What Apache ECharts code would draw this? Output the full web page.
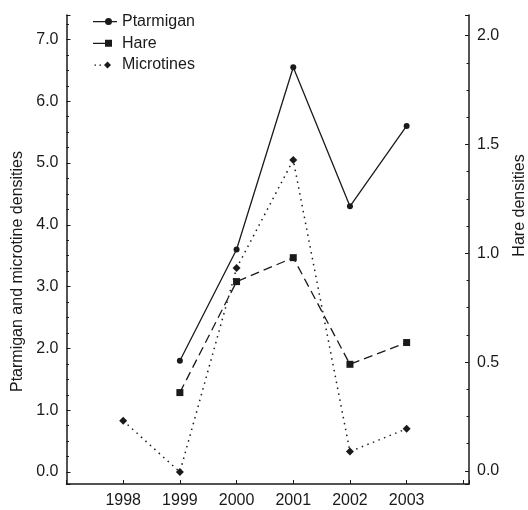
<!DOCTYPE html>
<html>
<head>
<meta charset="utf-8">
<script src="https://cdn.jsdelivr.net/npm/echarts@6/dist/echarts.min.js"></script>
<style>html,body{margin:0;padding:0;background:#fff}#c{width:528px;height:510px}</style>
</head>
<body>
<div id="c"></div>
<script>
const years = [1998, 1999, 2000, 2001, 2002, 2003];
const ptarmigan = [null, 1.8, 3.6, 6.55, 4.3, 5.6];
const hare = [null, 0.36, 0.87, 0.98, 0.49, 0.59];
const microtines = [0.83, 0.0, 3.3, 5.05, 0.33, 0.7];
const leftTicks = [0, 1, 2, 3, 4, 5, 6, 7];
const rightTicks = [0, 0.5, 1.0, 1.5, 2.0];
const seriesNames = ['Ptarmigan', 'Hare', 'Microtines'];

const ink = '#1a1a1a';
const font = 'Liberation Sans, Arial, sans-serif';
const pairs = arr => years.map((y, i) => [y, arr[i]]).filter(p => p[1] !== null);
const fmtTick = list => v => list.some(t => Math.abs(t - v) < 1e-6) ? v.toFixed(1) : '';

const LMIN = -0.194, LMAX = 7.396, RMIN = -0.06, RMAX = 2.095;

// legend glyphs: line with marker on its right part (box 24 x 7)
const BOX = ' M0,0 M24,7';
const icons = [
  'path://M0,3 H24 V4.2 H0 Z M12,3.5 A3.5,3.5 0 1 1 19,3.5 A3.5,3.5 0 1 1 12,3.5 Z' + BOX,
  'path://M0,3 H19 V4.2 H0 Z M12,0 H19 V7 H12 Z' + BOX,
  'path://M1.5,3 H3 V4.3 H1.5 Z M6.5,3 H8 V4.3 H6.5 Z M14.5,0 L18,3.5 L14.5,7 L11,3.5 Z' + BOX
];

const chart = echarts.init(document.getElementById('c'), null, {renderer: 'canvas'});
chart.setOption({
  animation: false,
  backgroundColor: '#fff',
  grid: {left: 66.5, right: 59, top: 15, bottom: 26, containLabel: false, outerBoundsMode: 'none'},
  legend: {
    orient: 'vertical', left: 93, top: 13, padding: 0, itemWidth: 24, itemHeight: 7, itemGap: 4.7,
    textStyle: {fontFamily: font, fontSize: 16, color: ink, lineHeight: 17},
    data: seriesNames.map((n, i) => ({name: n, icon: icons[i]}))
  },
  xAxis: {
    type: 'value', min: 1997, max: 2004.1, interval: 1,
    axisLine: {onZero: false, lineStyle: {color: ink, width: 1.5}},
    axisTick: {inside: true, length: 4, lineStyle: {color: ink}},
    axisLabel: {fontFamily: font, fontSize: 16, color: ink, margin: 9,
      formatter: v => years.indexOf(Math.round(v)) >= 0 && Math.abs(v - Math.round(v)) < 1e-6 ? String(v) : ''},
    splitLine: {show: false}
  },
  yAxis: [
    {
      type: 'value', position: 'left', min: LMIN, max: LMAX, minInterval: 1, maxInterval: 1, splitNumber: 7,
      name: 'Ptarmigan and microtine densities', nameLocation: 'middle', nameRotate: 90, nameGap: 41,
      nameTextStyle: {fontFamily: font, fontSize: 16, color: ink, padding: [0, 44, 0, 0]},
      axisLine: {show: true, onZero: false, lineStyle: {color: ink, width: 1.5}},
      axisTick: {show: true, inside: true, length: 4, lineStyle: {color: ink}},
      axisLabel: {fontFamily: font, fontSize: 16, color: ink, margin: 8, formatter: fmtTick(leftTicks)},
      splitLine: {show: false}
    },
    {
      type: 'value', position: 'right', min: RMIN, max: RMAX, minInterval: 0.5, maxInterval: 0.5, splitNumber: 4,
      name: 'Hare densities', nameLocation: 'middle', nameRotate: 90, nameGap: 43,
      nameTextStyle: {fontFamily: font, fontSize: 16, color: ink, padding: [0, 0, 0, 88]},
      axisLine: {show: true, onZero: false, lineStyle: {color: ink, width: 1.5}},
      axisTick: {show: true, inside: true, length: 4, lineStyle: {color: ink}},
      axisLabel: {fontFamily: font, fontSize: 16, color: ink, margin: 8, formatter: fmtTick(rightTicks)},
      splitLine: {show: false}
    },
    {
      type: 'value', position: 'left', min: LMIN, max: LMAX, minInterval: 0.25, maxInterval: 0.25, splitNumber: 30,
      axisLine: {show: false}, axisLabel: {show: false}, splitLine: {show: false},
      axisTick: {show: true, inside: true, length: 2.5, lineStyle: {color: ink}}
    },
    {
      type: 'value', position: 'right', min: RMIN, max: RMAX, minInterval: 0.125, maxInterval: 0.125, splitNumber: 16,
      axisLine: {show: false}, axisLabel: {show: false}, splitLine: {show: false},
      axisTick: {show: true, inside: true, length: 2.5, lineStyle: {color: ink}}
    }
  ],
  series: [
    {
      name: seriesNames[0], type: 'line', yAxisIndex: 0, data: pairs(ptarmigan),
      symbol: 'circle', symbolSize: 6,
      lineStyle: {color: ink, width: 1.3, type: 'solid'},
      itemStyle: {color: ink}
    },
    {
      name: seriesNames[1], type: 'line', yAxisIndex: 1, data: pairs(hare),
      symbol: 'rect', symbolSize: 7,
      lineStyle: {color: ink, width: 1.3, type: [9, 5]},
      itemStyle: {color: ink}
    },
    {
      name: seriesNames[2], type: 'line', yAxisIndex: 0, data: pairs(microtines),
      symbol: 'diamond', symbolSize: 8,
      lineStyle: {color: ink, width: 1.5, type: [1.5, 4.5]},
      itemStyle: {color: ink}
    }
  ]
});
</script>
</body>
</html>
